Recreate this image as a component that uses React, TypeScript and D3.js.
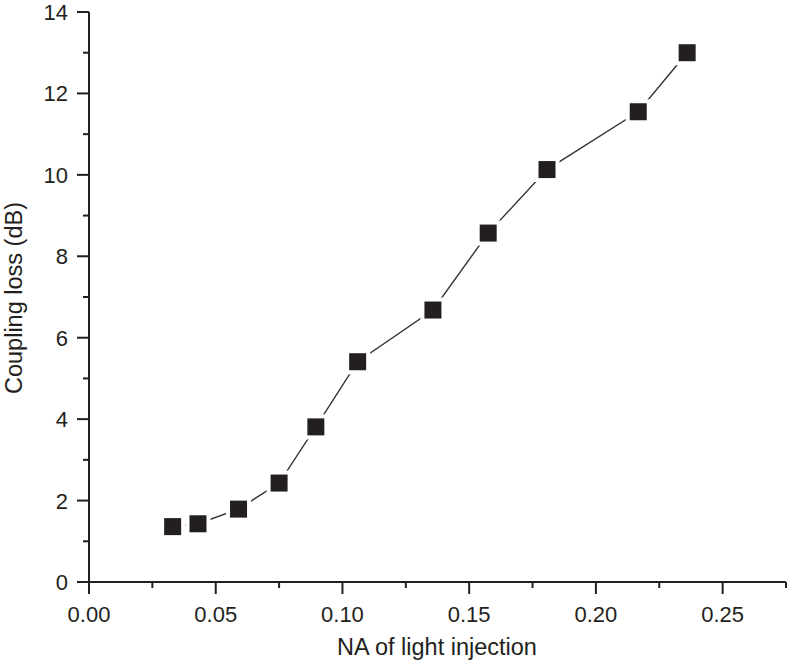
import React, { useEffect, useRef } from 'react';
import * as d3 from 'd3';

// NA values and measured coupling loss (dB)
const naValues = [0.033, 0.043, 0.059, 0.075, 0.0895, 0.106, 0.1357, 0.1575, 0.1807, 0.2167, 0.236];
const lossValues = [1.36, 1.43, 1.79, 2.43, 3.81, 5.41, 6.68, 8.57, 10.13, 11.55, 13.0];

const xTicks = [0, 0.05, 0.1, 0.15, 0.2, 0.25];
const xMinor = [0.025, 0.075, 0.125, 0.175, 0.225, 0.275];
const yTicks = [0, 2, 4, 6, 8, 10, 12, 14];
const yMinor = [1, 3, 5, 7, 9, 11, 13];

const ink = '#231f20';
const font = 'Liberation Sans, Arial, Helvetica, sans-serif';

const App = () => {
  const svgRef = useRef<SVGSVGElement>(null);

  useEffect(() => {
    const svg = d3.select(svgRef.current);
    svg.selectAll('*').remove();

    const x = d3.scaleLinear().domain([0, 0.275]).range([89, 786]);
    const y = d3.scaleLinear().domain([0, 14]).range([582, 12]);

    const g = svg.append('g');

    // axes lines
    g.append('line')
      .attr('x1', x(0)).attr('x2', x(0.275))
      .attr('y1', y(0)).attr('y2', y(0))
      .attr('stroke', ink).attr('stroke-width', 2);
    g.append('line')
      .attr('x1', x(0)).attr('x2', x(0))
      .attr('y1', y(0)).attr('y2', y(14))
      .attr('stroke', ink).attr('stroke-width', 2);

    // x ticks
    g.selectAll('.xt').data(xTicks).enter().append('line')
      .attr('x1', d => x(d)).attr('x2', d => x(d))
      .attr('y1', y(0)).attr('y2', y(0) + 12)
      .attr('stroke', ink).attr('stroke-width', 2);
    g.selectAll('.xm').data(xMinor).enter().append('line')
      .attr('x1', d => x(d)).attr('x2', d => x(d))
      .attr('y1', y(0)).attr('y2', y(0) + 6)
      .attr('stroke', ink).attr('stroke-width', 2);
    g.selectAll('.xl').data(xTicks).enter().append('text')
      .attr('x', d => x(d)).attr('y', 622)
      .attr('text-anchor', 'middle')
      .attr('font-family', font).attr('font-size', 22).attr('fill', ink)
      .text(d => d.toFixed(2));

    // y ticks
    g.selectAll('.yt').data(yTicks).enter().append('line')
      .attr('x1', x(0) - 12).attr('x2', x(0))
      .attr('y1', d => y(d)).attr('y2', d => y(d))
      .attr('stroke', ink).attr('stroke-width', 2);
    g.selectAll('.ym').data(yMinor).enter().append('line')
      .attr('x1', x(0) - 6).attr('x2', x(0))
      .attr('y1', d => y(d)).attr('y2', d => y(d))
      .attr('stroke', ink).attr('stroke-width', 2);
    g.selectAll('.yl').data(yTicks).enter().append('text')
      .attr('x', 68).attr('y', d => y(d) + 8)
      .attr('text-anchor', 'end')
      .attr('font-family', font).attr('font-size', 22).attr('fill', ink)
      .text(d => d);

    // axis titles
    g.append('text')
      .attr('x', 437).attr('y', 655)
      .attr('text-anchor', 'middle')
      .attr('font-family', font).attr('font-size', 23.5).attr('fill', ink)
      .text('NA of light injection');
    g.append('text')
      .attr('transform', `translate(22,${298}) rotate(-90)`)
      .attr('text-anchor', 'middle')
      .attr('font-family', font).attr('font-size', 23.5).attr('fill', ink)
      .text('Coupling loss (dB)');

    const pts = naValues.map((v, i) => [v, lossValues[i]] as [number, number]);

    // connecting line
    const line = d3.line<[number, number]>().x(d => x(d[0])).y(d => y(d[1]));
    g.append('path')
      .attr('d', line(pts))
      .attr('fill', 'none')
      .attr('stroke', '#333')
      .attr('stroke-width', 1.4);

    // markers with white halo so the line stops short
    const s = 17;
    g.selectAll('.halo').data(pts).enter().append('rect')
      .attr('x', d => x(d[0]) - s / 2 - 4).attr('y', d => y(d[1]) - s / 2 - 4)
      .attr('width', s + 8).attr('height', s + 8)
      .attr('fill', 'white');
    g.selectAll('.pt').data(pts).enter().append('rect')
      .attr('x', d => x(d[0]) - s / 2).attr('y', d => y(d[1]) - s / 2)
      .attr('width', s).attr('height', s)
      .attr('fill', ink);
  }, []);

  return (
    <svg ref={svgRef} width={788} height={662}
      style={{ position: 'absolute', left: 0, top: 0, background: 'white' }}></svg>
  );
};

export default App;
